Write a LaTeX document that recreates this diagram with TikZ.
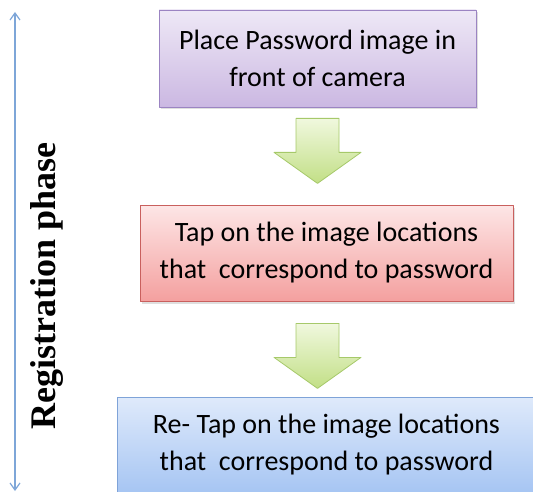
\documentclass[tikz,border=0pt]{standalone}
\usepackage{fontspec}
\setmainfont{Carlito}
\newfontfamily\phasefont{Liberation Serif}
\usetikzlibrary{arrows.meta,calc,shadows}
\definecolor{placetop}{HTML}{EEE8F6}
\definecolor{placebot}{HTML}{CBB8E2}
\definecolor{placeline}{HTML}{9B84C2}
\definecolor{taptop}{HTML}{FDE6E6}
\definecolor{tapbot}{HTML}{F4A09F}
\definecolor{tapline}{HTML}{C9605E}
\definecolor{retaptop}{HTML}{DFEAFB}
\definecolor{retapbot}{HTML}{A6C5F3}
\definecolor{retapline}{HTML}{7FA3D8}
\definecolor{greentop}{HTML}{F0F8DE}
\definecolor{greenbot}{HTML}{C2DF86}
\definecolor{greenline}{HTML}{A6C96A}
\definecolor{phaseline}{HTML}{7EA6D8}
\begin{document}
\begin{tikzpicture}[x=1pt,y=-1pt,line join=round]
		\tikzset{stepbox/.style={draw,line width=0.8pt,align=center,inner sep=0pt,
				font=\fontsize{28}{37}\selectfont,
				drop shadow={opacity=0.25,shadow xshift=1.5pt,shadow yshift=-2.5pt}},
			greenarrow/.style={draw=greenline,line width=0.8pt,top color=greentop,bottom color=greenbot},
			phasearrow/.style={draw=phaseline,line width=1.2pt,{Straight Barb[length=7pt,width=10pt]}-{Straight Barb[length=7pt,width=10pt]}}}
		\useasboundingbox (0,0) rectangle (533,492);
		% the three steps
		\node[stepbox,draw=placeline,top color=placetop,bottom color=placebot,
			minimum width=317pt,minimum height=97pt] (place) at (317.5,58.5)
			{Place Password image in\\front of camera};
		\node[stepbox,draw=tapline,top color=taptop,bottom color=tapbot,
			minimum width=373pt,minimum height=96pt] (tap) at (326.5,253)
			{Tap on the image locations\\that\ \ correspond to password};
		\node[stepbox,draw=retapline,top color=retaptop,bottom color=retapbot,
			minimum width=419pt,minimum height=96pt] (retap) at (326.5,445)
			{Re- Tap on the image locations\\that\ \ correspond to password};
		% block arrows
		\coordinate (arrA) at ($(place.south)+(0,11)$);
		\coordinate (arrB) at ($(tap.south -| place.south)+(0,22)$);
		\foreach \a in {arrA,arrB}
		\draw[greenarrow] (\a) ++(-21.5,0) -- ++(0,34) -- ++(-22,0) -- ++(43.5,31)
			-- ++(43.5,-31) -- ++(-22,0) -- ++(0,-34) -- cycle;
		% phase
		\coordinate (phtop) at (15,12);
		\coordinate (phbot) at (15,491);
		\draw[phasearrow] (phtop) -- (phbot);
		\node[rotate=90,anchor=base,font=\phasefont\bfseries\fontsize{36}{40}\selectfont] (phase) at (55,286) {Registration phase};
\end{tikzpicture}
\end{document}
